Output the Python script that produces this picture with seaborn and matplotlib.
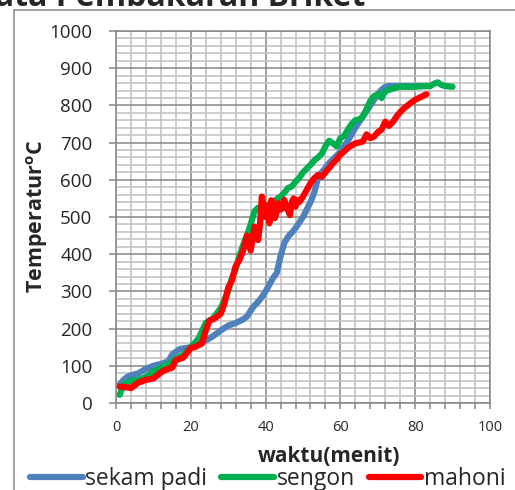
import numpy as np
import pandas as pd
import matplotlib
matplotlib.use("Agg")
import matplotlib.pyplot as plt
import seaborn as sns
from matplotlib.ticker import MultipleLocator
from matplotlib.lines import Line2D

# ---------------- data ----------------
series_names = ["sekam padi", "sengon", "mahoni"]
series_colors = ["#4F81BD", "#00B050", "#FF0000"]

sekam_x = [1, 2, 3, 4, 6, 8, 10, 12, 14, 15, 17, 20, 22, 24, 26, 28, 30, 32, 34, 35,
           36, 37, 38, 39, 40, 41, 42, 43, 44, 45, 46, 47, 48, 49, 50, 51, 52, 53, 54, 55,
           56, 57, 58, 59, 60, 61, 62, 63, 64, 65, 66, 67, 68, 69, 70, 71, 72, 73, 75, 78,
           81, 84]
sekam_y = [50, 62, 70, 74, 80, 92, 100, 105, 112, 130, 145, 150, 162, 168, 180, 195, 208, 215, 225, 232,
           248, 262, 272, 285, 300, 318, 336, 350, 395, 430, 447, 458, 470, 485, 500, 520, 540, 565, 605, 620,
           632, 645, 655, 665, 675, 690, 705, 722, 740, 755, 770, 785, 800, 815, 830, 842, 850, 852, 852, 852,
           852, 852]

sengon_x = [1, 2, 4, 6, 8, 10, 12, 14, 16, 18, 20, 22, 24, 26, 28, 30, 31, 32, 33, 34,
            35, 36, 37, 38, 39, 40, 42, 43, 44, 45, 46, 47, 48, 49, 50, 51, 52, 53, 54, 55,
            56, 57, 58, 59, 60, 61, 62, 63, 64, 65, 66, 67, 68, 69, 70, 71, 72, 73, 74, 75,
            76, 78, 80, 82, 84, 85, 86, 87, 88, 90]
sengon_y = [22, 50, 60, 62, 70, 85, 95, 105, 118, 130, 150, 172, 215, 228, 255, 300, 335, 360, 395, 425,
            450, 480, 515, 525, 520, 530, 540, 548, 555, 565, 578, 582, 595, 605, 620, 630, 640, 652, 660, 670,
            690, 705, 698, 690, 712, 718, 735, 750, 760, 762, 770, 790, 812, 825, 830, 820, 838, 842, 845, 848,
            850, 850, 850, 852, 852, 858, 862, 855, 852, 850]

mahoni_x = [1, 3, 4, 6, 8, 10, 12, 13, 15, 16, 18, 20, 21, 23, 24, 25, 26, 27, 28, 29,
            30, 31, 32, 33, 34, 35, 35.5, 36, 36.5, 37, 37.5, 38, 38.5, 39, 39.5, 40, 40.5, 41, 41.5, 42,
            42.5, 43, 43.5, 44, 44.5, 45, 45.5, 46, 46.5, 47, 47.5, 48, 48.5,
            49, 50, 51, 52, 53, 54, 55, 56, 57, 58, 59, 60, 61, 62, 63, 64, 65, 66, 67, 68,
            69, 70, 71, 72, 73, 74, 75, 76, 77, 78, 79, 80, 81, 82, 83]
mahoni_y = [44, 42, 40, 55, 62, 66, 82, 88, 95, 115, 122, 148, 150, 160, 195, 222, 225, 232, 240, 268,
            310, 330, 368, 385, 410, 450, 430, 410, 440, 474, 455, 438, 480, 555, 520, 500, 530, 483, 545, 540,
            497, 515, 537, 520, 523, 546, 525, 519, 505, 540, 550, 528, 545,
            540, 555, 573, 591, 604, 613, 608, 620, 632, 644, 655, 668, 676, 686, 692, 698, 700, 703, 722, 712,
            716, 728, 735, 756, 745, 755, 770, 782, 792, 800, 808, 815, 820, 825, 830]

x_ticks = [0, 20, 40, 60, 80, 100]
y_ticks = [0, 100, 200, 300, 400, 500, 600, 700, 800, 900, 1000]
title_text = "Data Pembakaran Briket"
x_label = "waktu(menit)"
y_label = r"Temperatur$^{\mathbf{o}}$C"

# ---------------- style ----------------
sns.set_theme(style="white")
plt.rcParams["font.family"] = ["Open Sans", "DejaVu Sans"]
plt.rcParams["mathtext.fontset"] = "custom"
plt.rcParams["mathtext.rm"] = "Open Sans"
plt.rcParams["mathtext.bf"] = "Open Sans:bold"

W, H = 515, 490
fig = plt.figure(figsize=(W / 100, H / 100), dpi=100)
fig.patch.set_facecolor("white")
ax = fig.add_axes([116 / W, 87 / H, 374 / W, 372 / H])

df = pd.concat([
    pd.DataFrame({"x": sekam_x, "y": sekam_y, "s": series_names[0]}),
    pd.DataFrame({"x": sengon_x, "y": sengon_y, "s": series_names[1]}),
    pd.DataFrame({"x": mahoni_x, "y": mahoni_y, "s": series_names[2]}),
])
sns.lineplot(data=df, x="x", y="y", hue="s", hue_order=series_names,
             palette=series_colors, linewidth=4.5, ax=ax, legend=False,
             estimator=None, sort=False, zorder=3)
for ln in ax.get_lines():
    ln.set_solid_capstyle("round")
    ln.set_solid_joinstyle("round")

ax.set_xlim(0, 100)
ax.set_ylim(0, 1000)
ax.set_xticks(x_ticks)
ax.set_yticks(y_ticks)
ax.xaxis.set_minor_locator(MultipleLocator(4))
ax.yaxis.set_minor_locator(MultipleLocator(20))
ax.set_axisbelow(True)
ax.grid(which="major", color="#868686", linewidth=1.1)
ax.grid(which="minor", color="#BFBFBF", linewidth=1.1)
for sp in ax.spines.values():
    sp.set_color("#868686")
    sp.set_linewidth(1.1)
ax.tick_params(axis="x", which="both", direction="out", length=4, width=1.1,
               color="#868686", labelsize=10.5, pad=8, bottom=True)
ax.tick_params(axis="y", which="major", direction="out", length=5, width=1.1,
               color="#868686", labelsize=13.5, pad=12, left=True)
ax.tick_params(axis="y", which="minor", length=0)
ax.set_xlabel("")
ax.set_ylabel("")

fig.text(329 / W, 1 - 456 / H, x_label, ha="center", va="center",
         fontsize=15, fontweight="bold")
fig.text(37 / W, 1 - 216 / H, y_label, ha="center", va="center",
         rotation=90, fontsize=15.5, fontweight="bold")
fig.text(365 / W, 1 - 6 / H, title_text, ha="right", va="baseline",
         fontsize=23, fontweight="bold")

# outer chart frame
fig.add_artist(Line2D([14 / W, 14 / W], [0, 1 - 10 / H], transform=fig.transFigure,
                      color="#868686", lw=1.1))
fig.add_artist(Line2D([14 / W, 1], [1 - 10 / H, 1 - 10 / H], transform=fig.transFigure,
                      color="#868686", lw=1.1))

handles = [Line2D([0], [0], color=c, lw=4.5, solid_capstyle="round") for c in series_colors]
fig.legend(handles, series_names, loc="center left", bbox_to_anchor=(30 / W, 1 - 479 / H),
           ncol=3, frameon=False, borderpad=0, borderaxespad=0, fontsize=16.5,
           handlelength=2.3, handletextpad=0.12, columnspacing=0.6)

fig.savefig("out.png", dpi=100, facecolor="white")
